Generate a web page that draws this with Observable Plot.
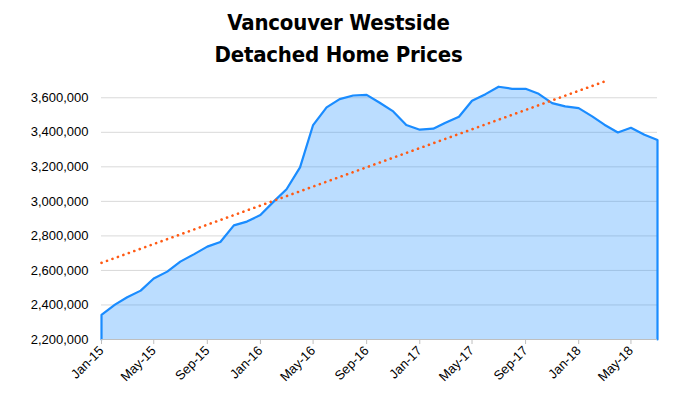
<!DOCTYPE html>
<html><head><meta charset="utf-8">
<script src="https://cdn.jsdelivr.net/npm/d3@7"></script>
<script src="https://cdn.jsdelivr.net/npm/@observablehq/plot@0.6"></script>
<style>
body{margin:0;background:#fff;}
#title{height:70px;box-sizing:border-box;padding-top:7px;text-align:center;font-family:"Liberation Sans Narrow","DejaVu Sans Condensed",sans-serif;font-weight:bold;font-size:22px;letter-spacing:-0.2px;line-height:32px;color:#000;}
#chart svg{display:block;}
</style></head><body>
<div id="title">Vancouver Westside<br>Detached Home Prices</div>
<div id="chart"></div>
<script>
const months = ["2015-01","2015-02","2015-03","2015-04","2015-05","2015-06","2015-07","2015-08","2015-09","2015-10","2015-11","2015-12",
"2016-01","2016-02","2016-03","2016-04","2016-05","2016-06","2016-07","2016-08","2016-09","2016-10","2016-11","2016-12",
"2017-01","2017-02","2017-03","2017-04","2017-05","2017-06","2017-07","2017-08","2017-09","2017-10","2017-11","2017-12",
"2018-01","2018-02","2018-03","2018-04","2018-05","2018-06","2018-07"];
const prices = [2343000,2402000,2445000,2483000,2553000,2593000,2651000,2693000,2738000,2765000,2861000,2883000,
2921000,3000000,3070000,3197000,3442000,3544000,3592000,3613000,3617000,3571000,3521000,3442000,
3415000,3421000,3455000,3490000,3583000,3621000,3664000,3652000,3652000,3623000,3569000,3550000,
3540000,3492000,3444000,3399000,3426000,3386000,3355000];
const trendMonths = ["2015-01","2018-03"];
const trendValues = [2644000,3694000];
const xTickLabels = ["2015-01","2015-05","2015-09","2016-01","2016-05","2016-09","2017-01","2017-05","2017-09","2018-01","2018-05"];
const yTicks = [2200000,2400000,2600000,2800000,3000000,3200000,3400000,3600000];
const yMin = 2200000, yMax = 3700000;

const toDate = m => new Date(m + "-01T00:00:00Z");
const data = months.map((m,i) => ({date: toDate(m), value: prices[i]}));
const outline = [{date: data[0].date, value: yMin}, ...data, {date: data[data.length-1].date, value: yMin}];
const trend = trendMonths.map((m,i) => ({date: toDate(m), value: trendValues[i]}));
const xTicks = xTickLabels.map(toDate);

const chart = Plot.plot({
  width: 677, height: 328,
  marginLeft: 101, marginRight: 20, marginTop: 10, marginBottom: 59,
  style: {fontFamily: "'Liberation Sans', Arial, sans-serif", fontSize: "13px", color: "#000", background: "#fff"},
  x: {type: "utc", domain: [data[0].date, data[data.length-1].date]},
  y: {domain: [yMin, yMax]},
  marks: [
    Plot.ruleY(yTicks.slice(1), {stroke: "#d9d9d9"}),
    Plot.areaY(data, {x: "date", y1: yMin, y2: "value", fill: "#1e90ff", fillOpacity: 0.3}),
    Plot.line(outline, {x: "date", y: "value", stroke: "#1a8cff", strokeWidth: 2.2}),
    Plot.ruleY([yMin], {stroke: "#bfbfbf"}),
    Plot.line(trend, {x: "date", y: "value", stroke: "#ff5a14", strokeWidth: 2.6, strokeDasharray: "0.1 5.7", strokeLinecap: "round"}),
    Plot.axisX({ticks: xTicks, tickFormat: d3.utcFormat("%b-%y"), tickRotate: -45, tickSize: 5, tickPadding: 4, stroke: "#bfbfbf", fill: "#000", label: null}),
    Plot.axisY({ticks: yTicks, tickFormat: d3.format(","), tickSize: 0, tickPadding: 13, fill: "#000", label: null})
  ]
});
document.getElementById("chart").appendChild(chart);
</script>
</body></html>
